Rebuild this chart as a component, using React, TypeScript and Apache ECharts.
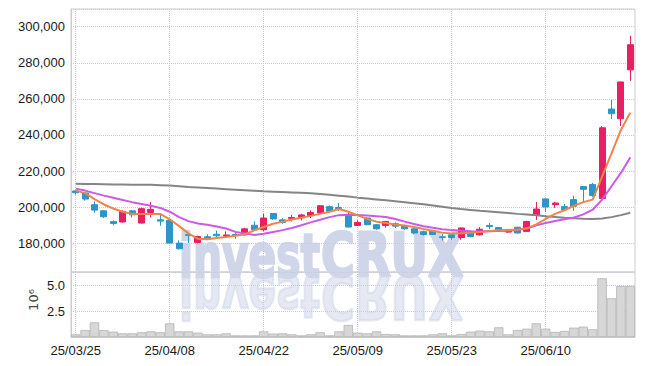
import React, { useEffect, useRef } from 'react';
import * as echarts from 'echarts';

const dates = [
  '25/03/25', '25/03/26', '25/03/27', '25/03/28', '25/03/31', '25/04/01', '25/04/02', '25/04/03', '25/04/04', '25/04/07',
  '25/04/08', '25/04/09', '25/04/10', '25/04/11', '25/04/14', '25/04/15', '25/04/16', '25/04/17', '25/04/18', '25/04/21',
  '25/04/22', '25/04/23', '25/04/24', '25/04/25', '25/04/28', '25/04/29', '25/04/30', '25/05/02', '25/05/07', '25/05/08',
  '25/05/09', '25/05/12', '25/05/13', '25/05/14', '25/05/15', '25/05/16', '25/05/19', '25/05/20', '25/05/21', '25/05/22',
  '25/05/23', '25/05/26', '25/05/27', '25/05/28', '25/05/29', '25/05/30', '25/06/02', '25/06/04', '25/06/05', '25/06/09',
  '25/06/10', '25/06/11', '25/06/12', '25/06/13', '25/06/16', '25/06/17', '25/06/18', '25/06/19', '25/06/20', '25/06/23',
];

const opens = [
  209000, 207900, 201400, 198000, 192000, 191800, 198000, 191200, 197000, 193000,
  192700, 180100, 184800, 180400, 183600, 185000, 184000, 184900, 184700, 190000,
  187500, 196500, 193000, 193800, 194200, 195300, 196800, 200300, 199800, 195800,
  189900, 194000, 190300, 189900, 190800, 189700, 188000, 186400, 186600, 183600,
  184700, 183200, 186600, 184700, 189900, 188700, 186200, 188900, 186600, 195500,
  204600, 201400, 200300, 204200, 211400, 212600, 204800, 254400, 249000, 276100,
];
const closes = [
  208000, 204500, 198400, 194700, 191000, 197700, 195800, 199200, 198800, 192300,
  180100, 177000, 184400, 183800, 182800, 184200, 184600, 184400, 188000, 187500,
  194000, 193500, 191600, 194300, 195700, 197100, 200800, 197700, 199200, 189000,
  191600, 190300, 188000, 192100, 189500, 188000, 185700, 184900, 184900, 183200,
  183200, 188500, 183800, 187800, 189300, 187300, 187500, 185700, 192100, 199000,
  200100, 202300, 198700, 200500, 209900, 206500, 244000, 251800, 269400, 290000,
];
const lows = [
  207000, 203600, 197000, 194000, 189900, 191500, 194300, 191000, 194300, 189700,
  180000, 176500, 180200, 180000, 182300, 182900, 183000, 182500, 184300, 187000,
  186600, 193000, 190800, 192100, 192700, 194000, 196500, 197300, 198000, 188800,
  189700, 190000, 187500, 188700, 188500, 187500, 185000, 184300, 184700, 181500,
  182000, 182000, 183300, 184300, 187800, 186300, 185800, 185500, 186300, 193000,
  197400, 199500, 198000, 198000, 202600, 205800, 204500, 248800, 245000, 270000,
];
const highs = [
  209500, 208600, 203200, 198300, 192700, 198300, 198500, 199800, 202900, 195800,
  193000, 181600, 185000, 184200, 185000, 187000, 186600, 186700, 188500, 192100,
  196400, 196800, 194000, 195700, 196400, 198200, 201000, 201000, 202300, 196800,
  192700, 194500, 190600, 192400, 191600, 190300, 188300, 187000, 186800, 185100,
  185000, 188800, 187000, 189000, 191200, 189000, 188000, 189200, 192500, 202900,
  204800, 203000, 201800, 206400, 211700, 213500, 244900, 259400, 269600, 295000,
];

const maShort = [
  209200, 207800, 204500, 201500, 199300, 197500, 196300, 196200, 196200, 196300,
  193300, 189500, 185500, 182500, 182300, 182900, 183500, 184200, 185000, 187200,
  189000, 190800, 192000, 193200, 194200, 195200, 196300, 197500, 199000, 197500,
  195500, 193500, 192000, 191200, 190400, 189900, 189000, 187900, 187000, 185800,
  185400, 185600, 185800, 186200, 186800, 187200, 187400, 187600, 188300, 190500,
  193500, 196300, 198300, 200800, 202800, 204200, 216900, 229800, 242800, 252400,
];
const maMid = [
  210300, 209200, 207800, 206400, 205200, 204000, 202800, 201800, 200800, 199600,
  197500, 194500, 192300, 191000, 190300, 189300, 188200, 186300, 185500, 184600,
  185300, 186300, 187300, 188500, 190000, 191600, 193000, 194500, 195600, 195800,
  195700, 195400, 195000, 194600, 193500, 192000, 190700, 189500, 188600, 187800,
  187300, 187000, 186700, 186600, 186700, 186800, 187000, 187300, 188200, 190000,
  191200, 192300, 193300, 194300, 196000, 198600, 204200, 211600, 219000, 227600,
];
const maLong = [
  213000, 212900, 212800, 212700, 212600, 212600, 212500, 212500, 212400, 212200,
  212000, 211600, 211200, 210900, 210600, 210300, 210000, 209700, 209400, 209100,
  208800, 208600, 208400, 208200, 208000, 207700, 207300, 206900, 206400, 205900,
  205300, 204800, 204300, 203800, 203300, 202800, 202200, 201600, 201000, 200300,
  199600, 199000, 198500, 198000, 197600, 197200, 196800, 196300, 195900, 195500,
  195000, 194600, 194200, 193900, 193600, 193500, 193700, 194500, 195600, 196900,
];

// volume in millions of shares
const volumes = [
  0.26, 0.68, 1.43, 0.68, 0.52, 0.36, 0.36, 0.46, 0.55, 0.46,
  1.33, 0.55, 0.55, 0.42, 0.26, 0.26, 0.36, 0.16, 0.16, 0.16,
  0.55, 0.33, 0.36, 0.26, 0.16, 0.26, 0.46, 0.16, 0.55, 1.17,
  0.42, 0.36, 0.55, 0.29, 0.26, 0.16, 0.16, 0.16, 0.26, 0.36,
  0.16, 0.29, 0.52, 0.62, 0.55, 0.94, 0.26, 0.68, 0.81, 1.33,
  0.81, 0.49, 0.59, 0.91, 1.01, 0.75, 5.72, 3.77, 4.97, 4.97,
];

const UP = '#e91e63';
const DOWN = '#2d95c8';
const FONT = 'Liberation Sans';
const GRID_COLOR = '#c9c9d9';
const WM_COLOR = '#d0d6ea';

function wmText(text: string, x: number, scaleX: number, mirrored: boolean) {
  return {
    type: 'text', x, y: 255.5, z: 0, scaleX, scaleY: mirrored ? -1 : 1, originY: mirrored ? 20.5 : 0,
    style: {
      text, fontFamily: 'DejaVu Sans', fontWeight: 'bold', fontSize: 60,
      fill: WM_COLOR, stroke: WM_COLOR, lineWidth: 2.5, opacity: mirrored ? 0.55 : 1, verticalAlign: 'middle', align: 'left',
    },
  };
}

export default function App() {
  const ref = useRef<HTMLDivElement>(null);
  useEffect(() => {
    if (!ref.current) return;
    const chart = echarts.init(ref.current, null, { renderer: 'svg' });
    const candleData = dates.map((_, i) => [opens[i], closes[i], lows[i], highs[i]]);
    const labelStyle = { color: '#1a1a1a', fontFamily: FONT, fontSize: 13 };
    const splitLine = { show: true, lineStyle: { color: GRID_COLOR, type: 'dotted', width: 1 } };
    chart.setOption({
      animation: false,
      graphic: [
        wmText('invest', 179, 0.68, false),
        wmText('CRUX', 321, 0.77, false),
        wmText('invest', 179, 0.68, true),
        wmText('CRUX', 321, 0.77, true),
        {
          type: 'text', x: 33, y: 300, rotation: Math.PI / 2,
          style: { text: '10⁶', fontFamily: 'DejaVu Sans', fontSize: 13, fill: '#444', align: 'center', verticalAlign: 'middle' },
        },
      ],
      grid: [
        { left: 71, right: 10, top: 9, height: 263, show: true, borderColor: '#cccccc', borderWidth: 1, backgroundColor: 'transparent' },
        { left: 71, right: 10, top: 272, height: 65, show: true, borderColor: '#cccccc', borderWidth: 1, backgroundColor: 'transparent' },
      ],
      xAxis: [
        {
          type: 'category', gridIndex: 0, data: dates, boundaryGap: true,
          axisLabel: { show: false }, axisTick: { show: false }, axisLine: { show: false },
          splitLine: { ...splitLine, interval: 9, alignWithLabel: true },
        },
        {
          type: 'category', gridIndex: 1, data: dates, boundaryGap: true,
          axisLabel: { ...labelStyle, interval: 9, margin: 7 },
          axisTick: { show: false }, axisLine: { show: true, lineStyle: { color: '#cccccc' } },
          splitLine: { ...splitLine, interval: 9, alignWithLabel: true },
        },
      ],
      yAxis: [
        {
          type: 'value', gridIndex: 0, min: 164100, max: 309800, splitNumber: 7,
          axisLabel: {
            ...labelStyle, margin: 6, showMinLabel: false, showMaxLabel: false,
            formatter: (v: number) => (v % 20000 === 0 ? v.toLocaleString('en-US') : ''),
          },
          axisLine: { show: true, lineStyle: { color: '#cccccc' } }, axisTick: { show: false },
          splitLine,
        },
        {
          type: 'value', gridIndex: 1, min: 0, max: 6.33, interval: 2.5,
          axisLabel: {
            ...labelStyle, margin: 6, showMinLabel: false, showMaxLabel: false,
            formatter: (v: number) => v.toFixed(1),
          },
          axisLine: { show: true, lineStyle: { color: '#cccccc' } }, axisTick: { show: false },
          splitLine,
        },
      ],
      series: [
        {
          type: 'candlestick', xAxisIndex: 0, yAxisIndex: 0, data: candleData, barWidth: '70%', z: 3,
          itemStyle: { color: UP, color0: DOWN, borderColor: UP, borderColor0: DOWN, borderWidth: 1 },
        },
        { type: 'line', xAxisIndex: 0, yAxisIndex: 0, data: maLong, showSymbol: false, z: 4, lineStyle: { color: '#858585', width: 2 } },
        { type: 'line', xAxisIndex: 0, yAxisIndex: 0, data: maMid, showSymbol: false, z: 4, lineStyle: { color: '#cc5ae6', width: 2 } },
        { type: 'line', xAxisIndex: 0, yAxisIndex: 0, data: maShort, showSymbol: false, z: 4, lineStyle: { color: '#ef8549', width: 2 } },
        {
          type: 'bar', xAxisIndex: 1, yAxisIndex: 1, data: volumes, barWidth: '100%', z: 3,
          itemStyle: { color: '#d7d7d7', borderColor: '#b4b4b4', borderWidth: 0.8 },
        },
      ],
    });
    return () => chart.dispose();
  }, []);
  return <div ref={ref} style={{ position: 'absolute', left: 0, top: 0, width: 645, height: 366 }} />;
}
